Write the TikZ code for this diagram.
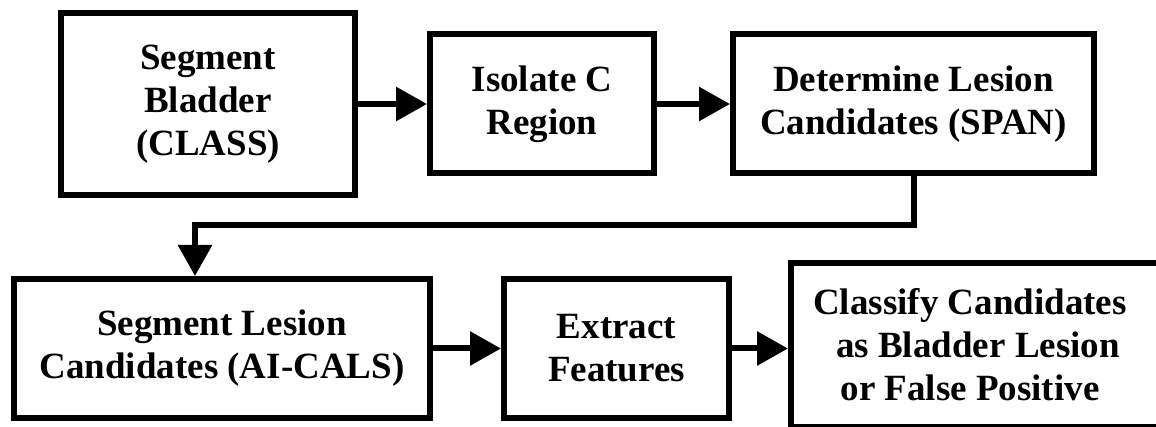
\documentclass[tikz,border=0pt]{standalone}
\usepackage{fontspec}
\setmainfont{Liberation Serif}
\usetikzlibrary{arrows.meta}
\tikzstyle{block} = [draw, rectangle, line width=6pt, align=center,
    font=\bfseries\fontsize{37}{43}\selectfont, minimum height=139pt]
\tikzstyle{flow} = [line width=6pt, -{Triangle[length=31pt,width=33pt]}]

\begin{document}
\begin{tikzpicture}[x=1pt, y=1pt, node distance=334pt]
    \useasboundingbox (0,0) rectangle (1156,-427);
    \clip (0,0) rectangle (1156,-427);
    % top row
    \node [block, minimum width=294pt, minimum height=182pt] at (208,-104) (bladder) {Segment\\Bladder\\(CLASS)};
    \node [block, right of=bladder, minimum width=224pt] (isolate) {Isolate C\\Region};
    \node [block, right of=isolate, node distance=371.5pt, minimum width=361pt] (span) {Determine Lesion\\Candidates (SPAN)};
    % bottom row
    \node [block, minimum width=416pt] at (222,-348.5) (lesion) {Segment Lesion\\Candidates (AI-CALS)};
    \node [block, right of=lesion, node distance=394.5pt, minimum width=225pt] (features) {Extract\\Features};
    \node [block, right of=features, node distance=361.5pt, yshift=3.5pt,
            minimum width=374pt, minimum height=164pt] (classify) {Classify Candidates\hspace*{16pt}\\as Bladder Lesion\hspace*{16pt}\\or False Positive\hspace*{16pt}};
    \draw [flow] (bladder) -- (isolate);
    \draw [flow] (isolate) -- (span);
    \draw [flow] (span.south) -- ++ (0,-48.5) -| ([xshift=-27pt]lesion.north);
    \draw [flow] (lesion) -- (features);
    \draw [flow] (features.east) -- (features.east -| classify.west);
\end{tikzpicture}
\end{document}
